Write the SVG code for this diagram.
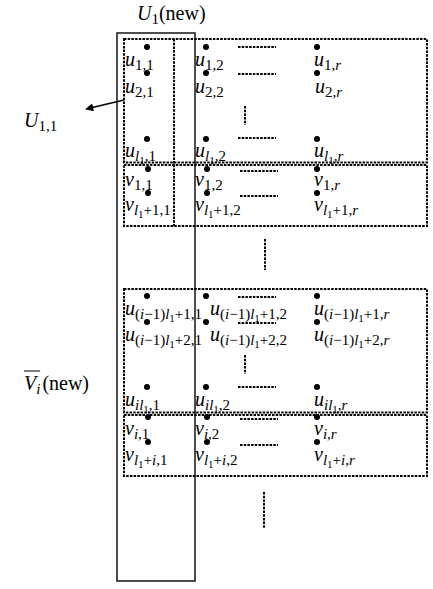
<svg xmlns="http://www.w3.org/2000/svg" width="433" height="589" viewBox="0 0 433 589">
<style>
.t{font-family:"Liberation Serif","Times New Roman",serif;font-size:20px;font-style:italic;fill:#000}
.s{font-size:15px;font-style:normal}
.ss{font-size:11px;font-style:normal}
.i{font-style:italic}
.n{font-style:normal}
.dot{fill:#000}
.box{fill:none;stroke:#000;stroke-width:2;stroke-dasharray:2.5 1.2}
.dash{fill:none;stroke:#000;stroke-width:2;stroke-dasharray:2.5 1.2}
.solid{fill:none;stroke:#222;stroke-width:1.6}
</style>
<defs>
<marker id="ah" viewBox="0 0 10 10" refX="9" refY="5" markerWidth="10" markerHeight="8" markerUnits="userSpaceOnUse" orient="auto">
<path d="M0,0 L10,5 L0,10 z" fill="#000"/>
</marker>
</defs>

<g id="U1new">
<rect class="solid" x="117" y="33" width="78" height="548"/>
<text class="t" x="137" y="20">U<tspan class="s" dy="4">1</tspan><tspan class="n" dy="-4">(new)</tspan></text>
</g>

<g id="Vinew">
<text class="t" x="24" y="390" font-size="21">V<tspan class="s i" dy="4">i</tspan><tspan class="n" dy="-4" dx="2">(new)</tspan></text>
<line x1="24" y1="371" x2="40" y2="371" stroke="#000" stroke-width="1"/>
</g>

<g id="U11">
<text class="t" x="24" y="127">U<tspan class="s" dy="4">1,1</tspan></text>
</g>

<g id="blockA">
<rect class="box" x="124" y="39" width="303" height="123.5"/>
<line class="box" x1="174" y1="39" x2="174" y2="226"/>
<line class="dash" x1="238" y1="47" x2="276" y2="47"/>
<line class="dash" x1="238" y1="74" x2="276" y2="74"/>
<line class="dash" x1="245" y1="106" x2="245" y2="125"/>
<line class="dash" x1="238" y1="138" x2="276" y2="138"/>
</g>
<g id="u11"><circle class="dot" cx="147" cy="47" r="3"/><text class="t" x="125" y="66">u<tspan class="s" dy="4">1,1</tspan></text></g>
<g id="u21"><circle class="dot" cx="147" cy="73" r="3"/><text class="t" x="125" y="93">u<tspan class="s" dy="4">2,1</tspan></text></g>
<g id="ul11"><circle class="dot" cx="147" cy="139" r="3"/><text class="t" x="125" y="157">u<tspan class="s" dy="4"><tspan class="i">l</tspan><tspan class="ss" dy="3">1</tspan><tspan dy="-3">,1</tspan></tspan></text></g>
<g id="u12"><circle class="dot" cx="206" cy="47" r="3"/><text class="t" x="195" y="66">u<tspan class="s" dy="4">1,2</tspan></text></g>
<g id="u22"><circle class="dot" cx="206" cy="73" r="3"/><text class="t" x="195" y="93">u<tspan class="s" dy="4">2,2</tspan></text></g>
<g id="ul12"><circle class="dot" cx="206" cy="139" r="3"/><text class="t" x="195" y="157">u<tspan class="s" dy="4"><tspan class="i">l</tspan><tspan class="ss" dy="3">1</tspan><tspan dy="-3">,2</tspan></tspan></text></g>
<g id="u1r"><circle class="dot" cx="317" cy="47" r="3"/><text class="t" x="314" y="66">u<tspan class="s" dy="4">1,<tspan class="i">r</tspan></tspan></text></g>
<g id="u2r"><circle class="dot" cx="317" cy="73" r="3"/><text class="t" x="315" y="93">u<tspan class="s" dy="4">2,<tspan class="i">r</tspan></tspan></text></g>
<g id="ul1r"><circle class="dot" cx="317" cy="139" r="3"/><text class="t" x="314" y="157">u<tspan class="s" dy="4"><tspan class="i">l</tspan><tspan class="ss" dy="3">1</tspan><tspan dy="-3">,<tspan class="i">r</tspan></tspan></tspan></text></g>

<g id="blockB">
<rect class="box" x="124" y="165" width="303" height="61"/>
<line class="dash" x1="240" y1="171" x2="278" y2="171"/>
<line class="dash" x1="240" y1="196" x2="278" y2="196"/>
</g>
<g id="v11"><circle class="dot" cx="148" cy="169" r="3"/><text class="t" x="125" y="186">v<tspan class="s" dy="4">1,1</tspan></text></g>
<g id="vl111"><circle class="dot" cx="148" cy="193" r="3"/><text class="t" x="125" y="211">v<tspan class="s" dy="4"><tspan class="i">l</tspan><tspan class="ss" dy="3">1</tspan><tspan dy="-3">+1,1</tspan></tspan></text></g>
<g id="v12"><circle class="dot" cx="207" cy="169" r="3"/><text class="t" x="195" y="186">v<tspan class="s" dy="4">1,2</tspan></text></g>
<g id="vl112"><circle class="dot" cx="207" cy="193" r="3"/><text class="t" x="195" y="211">v<tspan class="s" dy="4"><tspan class="i">l</tspan><tspan class="ss" dy="3">1</tspan><tspan dy="-3">+1,2</tspan></tspan></text></g>
<g id="v1r"><circle class="dot" cx="317" cy="169" r="3"/><text class="t" x="314" y="186">v<tspan class="s" dy="4">1,<tspan class="i">r</tspan></tspan></text></g>
<g id="vl11r"><circle class="dot" cx="317" cy="193" r="3"/><text class="t" x="314" y="211">v<tspan class="s" dy="4"><tspan class="i">l</tspan><tspan class="ss" dy="3">1</tspan><tspan dy="-3">+1,<tspan class="i">r</tspan></tspan></tspan></text></g>

<g id="gap1"><line class="dash" x1="265" y1="239" x2="265" y2="270"/></g>

<g id="blockC">
<rect class="box" x="124" y="289" width="303" height="123.5"/>
<line class="dash" x1="238" y1="297" x2="276" y2="297"/>
<line class="dash" x1="238" y1="323" x2="276" y2="323"/>
<line class="dash" x1="245" y1="355" x2="245" y2="374"/>
<line class="dash" x1="238" y1="387" x2="276" y2="387"/>
</g>
<g id="ua1"><circle class="dot" cx="147" cy="296" r="3"/><text class="t" x="125" y="315">u<tspan class="s" dy="4">(<tspan class="i">i</tspan>−1)<tspan class="i">l</tspan><tspan class="ss" dy="3">1</tspan><tspan dy="-3">+1,1</tspan></tspan></text></g>
<g id="ub1"><circle class="dot" cx="147" cy="322" r="3"/><text class="t" x="125" y="341">u<tspan class="s" dy="4">(<tspan class="i">i</tspan>−1)<tspan class="i">l</tspan><tspan class="ss" dy="3">1</tspan><tspan dy="-3">+2,1</tspan></tspan></text></g>
<g id="uil11"><circle class="dot" cx="147" cy="387" r="3"/><text class="t" x="125" y="406">u<tspan class="s" dy="4"><tspan class="i">il</tspan><tspan class="ss" dy="3">1</tspan><tspan dy="-3">,1</tspan></tspan></text></g>
<g id="ua2"><circle class="dot" cx="206" cy="296" r="3"/><text class="t" x="210" y="315">u<tspan class="s" dy="4">(<tspan class="i">i</tspan>−1)<tspan class="i">l</tspan><tspan class="ss" dy="3">1</tspan><tspan dy="-3">+1,2</tspan></tspan></text></g>
<g id="ub2"><circle class="dot" cx="206" cy="322" r="3"/><text class="t" x="210" y="341">u<tspan class="s" dy="4">(<tspan class="i">i</tspan>−1)<tspan class="i">l</tspan><tspan class="ss" dy="3">1</tspan><tspan dy="-3">+2,2</tspan></tspan></text></g>
<g id="uil12"><circle class="dot" cx="206" cy="387" r="3"/><text class="t" x="195" y="406">u<tspan class="s" dy="4"><tspan class="i">il</tspan><tspan class="ss" dy="3">1</tspan><tspan dy="-3">,2</tspan></tspan></text></g>
<g id="uar"><circle class="dot" cx="317" cy="296" r="3"/><text class="t" x="314" y="315">u<tspan class="s" dy="4">(<tspan class="i">i</tspan>−1)<tspan class="i">l</tspan><tspan class="ss" dy="3">1</tspan><tspan dy="-3">+1,<tspan class="i">r</tspan></tspan></tspan></text></g>
<g id="ubr"><circle class="dot" cx="317" cy="322" r="3"/><text class="t" x="314" y="341">u<tspan class="s" dy="4">(<tspan class="i">i</tspan>−1)<tspan class="i">l</tspan><tspan class="ss" dy="3">1</tspan><tspan dy="-3">+2,<tspan class="i">r</tspan></tspan></tspan></text></g>
<g id="uil1r"><circle class="dot" cx="317" cy="387" r="3"/><text class="t" x="314" y="406">u<tspan class="s" dy="4"><tspan class="i">il</tspan><tspan class="ss" dy="3">1</tspan><tspan dy="-3">,<tspan class="i">r</tspan></tspan></tspan></text></g>

<g id="blockD">
<rect class="box" x="124" y="415" width="303" height="61"/>
<line class="dash" x1="240" y1="419" x2="278" y2="419"/>
<line class="dash" x1="240" y1="445" x2="278" y2="445"/>
</g>
<g id="vi1"><circle class="dot" cx="148" cy="417" r="3"/><text class="t" x="125" y="435">v<tspan class="s" dy="4"><tspan class="i">i</tspan>,1</tspan></text></g>
<g id="vl1i1"><circle class="dot" cx="148" cy="442" r="3"/><text class="t" x="125" y="461">v<tspan class="s" dy="4"><tspan class="i">l</tspan><tspan class="ss" dy="3">1</tspan><tspan dy="-3">+<tspan class="i">i</tspan>,1</tspan></tspan></text></g>
<g id="vi2"><circle class="dot" cx="207" cy="417" r="3"/><text class="t" x="195" y="435">v<tspan class="s" dy="4"><tspan class="i">i</tspan>,2</tspan></text></g>
<g id="vl1i2"><circle class="dot" cx="207" cy="442" r="3"/><text class="t" x="195" y="461">v<tspan class="s" dy="4"><tspan class="i">l</tspan><tspan class="ss" dy="3">1</tspan><tspan dy="-3">+<tspan class="i">i</tspan>,2</tspan></tspan></text></g>
<g id="vir"><circle class="dot" cx="317" cy="417" r="3"/><text class="t" x="314" y="435">v<tspan class="s" dy="4"><tspan class="i">i</tspan>,<tspan class="i">r</tspan></tspan></text></g>
<g id="vl1ir"><circle class="dot" cx="317" cy="442" r="3"/><text class="t" x="314" y="461">v<tspan class="s" dy="4"><tspan class="i">l</tspan><tspan class="ss" dy="3">1</tspan><tspan dy="-3">+<tspan class="i">i</tspan>,<tspan class="i">r</tspan></tspan></tspan></text></g>

<g id="gap2"><line class="dash" x1="264" y1="492" x2="264" y2="528"/></g>

<g id="connectors">
<line x1="124" y1="100" x2="86" y2="109" stroke="#000" stroke-width="1.4" marker-end="url(#ah)"/>
</g>
</svg>
